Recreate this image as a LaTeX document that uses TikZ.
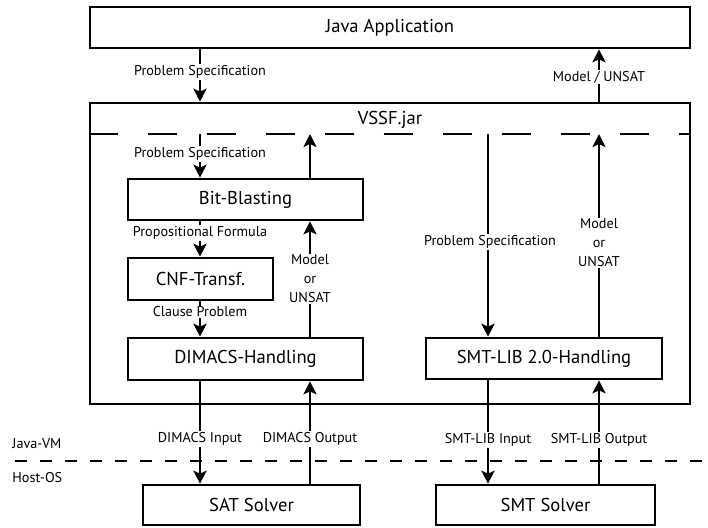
\documentclass[tikz,border=0pt]{standalone}
\usepackage{fontspec}
\newfontfamily\diafont{PT Sans}
\usetikzlibrary{arrows.meta}
\newcommand{\boxfont}{\diafont\fontsize{9.3}{11}\selectfont}
\newcommand{\lblfont}{\diafont\fontsize{7.1}{9.5}\selectfont}
\tikzset{
  blk/.style={draw, line width=1.3pt, inner sep=0pt, font=\boxfont},
  lbl/.style={fill=white, inner sep=0.6pt, font=\lblfont, align=center},
  flow/.style={line width=1.3pt, -{Stealth[length=6.5pt,width=6.5pt,inset=1.5pt]}}
}
\begin{document}
\begin{tikzpicture}[x=0.5pt,y=-0.5pt]
\useasboundingbox (0,0) rectangle (708,527);
\coordinate (c1) at (200,0); \coordinate (c2) at (310,0);
\coordinate (c3) at (488,0); \coordinate (c4) at (599,0);
\coordinate (dl) at (0,134);
\node[blk, minimum width=300pt, minimum height=20.5pt] (java) at (390,27.5) {Java Application};
\node[blk, minimum width=300pt, minimum height=150.5pt] (vssf) at (390,253.5) {};
\node[font=\boxfont] (vssflbl) at (390,120) {VSSF.jar};
\node[blk, minimum width=117.5pt, minimum height=20.5pt] (bb) at (245.5,199.5) {Bit-Blasting};
\node[blk, minimum width=72.5pt, minimum height=21pt] (cnf) at (200.5,279) {CNF-Transf.};
\node[blk, minimum width=117.5pt, minimum height=21pt] (dimacs) at (245.5,359) {DIMACS-Handling};
\node[blk, minimum width=118pt, minimum height=20.5pt] (smtlib) at (544,358.5) {SMT-LIB 2.0-Handling};
\node[blk, minimum width=108.5pt, minimum height=20pt] (sat) at (251.5,505) {SAT Solver};
\node[blk, minimum width=109.5pt, minimum height=20pt] (smt) at (545.5,505) {SMT Solver};
\draw[line width=1.3pt, dash pattern=on 14.5pt off 15pt] (vssf.west |- dl) -- (vssf.east |- dl);
\coordinate (hl) at (15,461); \coordinate (hr) at (708,461);
\draw[line width=1.3pt, dash pattern=on 6pt off 6.5pt] (hl) -- (hr);
\node[font=\lblfont, anchor=west, inner sep=0pt] (jvm) at (12,444) {Java-VM};
\node[font=\lblfont, anchor=west, inner sep=0pt] (hos) at (12,478) {Host-OS};
\draw[flow] (java.south -| c1) -- (vssf.north -| c1);
\draw[flow] (vssf.north -| c4) -- (java.south -| c4);
\draw[flow] (c1 |- dl) -- (bb.north -| c1);
\draw[flow] (bb.north -| c2) -- (c2 |- dl);
\draw[flow] (bb.south -| c1) -- (cnf.north -| c1);
\draw[flow] (cnf.south -| c1) -- (dimacs.north -| c1);
\draw[flow] (dimacs.north -| c2) -- (bb.south -| c2);
\draw[flow] (c3 |- dl) -- (smtlib.north -| c3);
\draw[flow] (smtlib.north -| c4) -- (c4 |- dl);
\draw[flow] (dimacs.south -| c1) -- (sat.north -| c1);
\draw[flow] (sat.north -| c2) -- (dimacs.south -| c2);
\draw[flow] (smtlib.south -| c3) -- (smt.north -| c3);
\draw[flow] (smt.north -| c4) -- (smtlib.south -| c4);
\node[lbl] (ps1) at (200,72) {Problem Specification};
\node[lbl] (mu1) at (599,77) {Model / UNSAT};
\node[lbl] (ps2) at (200,154) {Problem Specification};
\node[lbl] (pf) at (200,233) {Propositional Formula};
\node[lbl] (cp) at (200,312) {Clause Problem};
\node[lbl] (mu2) at (310,279) {Model\\or\\UNSAT};
\node[lbl] (ps3) at (490,242) {Problem Specification};
\node[lbl] (mu3) at (599,243) {Model\\or\\UNSAT};
\node[lbl] (di) at (200,439) {DIMACS Input};
\node[lbl] (do) at (310,439) {DIMACS Output};
\node[lbl] (si) at (488,440) {SMT-LIB Input};
\node[lbl] (so) at (599,440) {SMT-LIB Output};
\end{tikzpicture}
\end{document}
